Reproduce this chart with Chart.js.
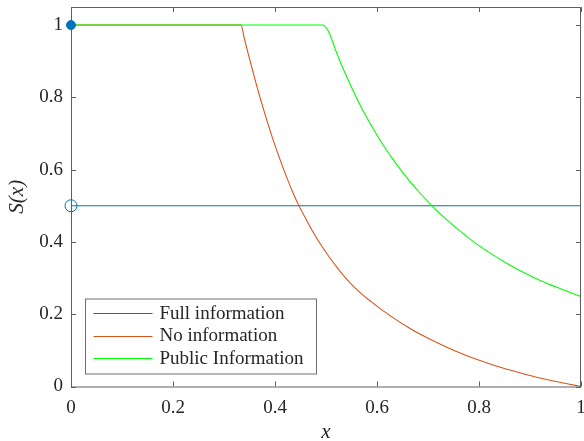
<!DOCTYPE html>
<html>
<head>
<meta charset="utf-8">
<script src="https://cdn.jsdelivr.net/npm/chart.js@4/dist/chart.umd.min.js"></script>
<style>
  html, body { margin: 0; padding: 0; background: #fff; }
  #wrap { position: relative; width: 584px; height: 441px; }
</style>
</head>
<body>
<div id="wrap"><canvas id="c" width="584" height="441"></canvas></div>
<script>
// ---- data ----
const xTicks = [0, 0.2, 0.4, 0.6, 0.8, 1];
const yTicks = [0, 0.2, 0.4, 0.6, 0.8, 1];
const xTickLabels = ['0', '0.2', '0.4', '0.6', '0.8', '1'];
const yTickLabels = ['0', '0.2', '0.4', '0.6', '0.8', '1'];

const seriesNames = ['Full information', 'No information', 'Public Information'];

const fullX = [0, 1];
const fullY = [0.5, 0.5];
const fullDotX = [0];
const fullDotY = [1];
const fullOpenX = [0];
const fullOpenY = [0.5];

const noInfoX = [0, 0.3333, 0.34, 0.347, 0.355, 0.363, 0.372, 0.383, 0.395, 0.409, 0.422, 0.435, 0.448,
  0.462, 0.474, 0.49, 0.507, 0.523, 0.54, 0.556, 0.573, 0.589, 0.605, 0.635, 0.664, 0.684, 0.715,
  0.749, 0.775, 0.802, 0.84, 0.88, 0.915, 0.946, 0.975, 1.0];
const noInfoY = [1, 1, 0.962, 0.923, 0.880, 0.838, 0.793, 0.741, 0.688, 0.631, 0.582, 0.537, 0.497,
  0.460, 0.429, 0.392, 0.357, 0.327, 0.298, 0.274, 0.252, 0.234, 0.217, 0.187, 0.161, 0.145, 0.123,
  0.101, 0.086, 0.072, 0.054, 0.038, 0.025, 0.015, 0.007, 0.0];

const publicX = [0, 0.494, 0.506, 0.52, 0.533, 0.55, 0.566, 0.58, 0.599, 0.615, 0.631, 0.65, 0.664,
  0.685, 0.708, 0.723, 0.75, 0.789, 0.82, 0.854, 0.88, 0.919, 0.95, 0.975, 1.0];
const publicY = [1, 1, 0.979, 0.926, 0.881, 0.828, 0.781, 0.744, 0.698, 0.662, 0.629, 0.593, 0.568,
  0.534, 0.500, 0.479, 0.445, 0.401, 0.371, 0.341, 0.321, 0.294, 0.276, 0.262, 0.249];

const colors = ['#0072BD', '#D95319', '#00FF00'];

function pts(xs, ys) { return xs.map((x, i) => ({ x: x, y: ys[i] })); }

const AXIS_COLOR = '#5e5e5e';
const TEXT_COLOR = '#262626';
const SERIF = '"Liberation Serif", "DejaVu Serif", serif';

// box + inside ticks (MATLAB style)
const boxPlugin = {
  id: 'boxTicks',
  afterDatasetsDraw(chart) {
    const { ctx, chartArea: a, scales } = chart;
    ctx.save();
    ctx.strokeStyle = AXIS_COLOR;
    ctx.lineWidth = 1;
    ctx.beginPath();
    ctx.rect(a.left + 0.5, a.top + 0.5, a.right - a.left - 1, a.bottom - a.top);
    ctx.stroke();
    const tl = 5;
    ctx.beginPath();
    xTicks.forEach(v => {
      const px = Math.round(scales.x.getPixelForValue(v)) + 0.5;
      ctx.moveTo(px, a.bottom); ctx.lineTo(px, a.bottom - tl);
      ctx.moveTo(px, a.top); ctx.lineTo(px, a.top + tl);
    });
    yTicks.forEach(v => {
      const py = Math.round(scales.y.getPixelForValue(v)) + 0.5;
      ctx.moveTo(a.left, py); ctx.lineTo(a.left + tl, py);
      ctx.moveTo(a.right, py); ctx.lineTo(a.right - tl, py);
    });
    ctx.stroke();
    ctx.restore();
  }
};

// legend box inside the axes, lower-left
const legendPlugin = {
  id: 'insideLegend',
  afterDraw(chart) {
    const { ctx, chartArea: a } = chart;
    const items = chart.data.datasets.filter(d => d.label);
    const x0 = a.left + 14.5, w = 231, rowH = 22.5, h = 75;
    const y0 = a.bottom - 12.5 - h;
    ctx.save();
    ctx.fillStyle = '#fff';
    ctx.fillRect(x0, y0, w, h);
    ctx.strokeStyle = '#6e6e6e';
    ctx.lineWidth = 1;
    ctx.strokeRect(x0, y0, w, h);
    ctx.font = '19px ' + SERIF;
    ctx.textBaseline = 'middle';
    ctx.textAlign = 'left';
    items.forEach((d, i) => {
      const cy = y0 + 14 + i * rowH;
      ctx.strokeStyle = d.borderColor;
      ctx.lineWidth = 1;
      ctx.beginPath();
      ctx.moveTo(x0 + 8, Math.round(cy) + 0.5);
      ctx.lineTo(x0 + 67, Math.round(cy) + 0.5);
      ctx.stroke();
      ctx.fillStyle = TEXT_COLOR;
      ctx.fillText(d.label, x0 + 74, cy + 1);
    });
    ctx.restore();
  }
};

new Chart(document.getElementById('c'), {
  type: 'line',
  data: {
    datasets: [
      { label: seriesNames[0], data: pts(fullX, fullY), borderColor: colors[0], borderWidth: 1.1,
        pointRadius: 0, fill: false, tension: 0, order: 3 },
      { label: seriesNames[1], data: pts(noInfoX, noInfoY), borderColor: colors[1], borderWidth: 1.1,
        pointRadius: 0, fill: false, cubicInterpolationMode: 'monotone', order: 2 },
      { label: seriesNames[2], data: pts(publicX, publicY), borderColor: colors[2], borderWidth: 1.1,
        pointRadius: 0, fill: false, cubicInterpolationMode: 'monotone', order: 1 },
      { label: '', data: pts(fullDotX, fullDotY), showLine: false, borderColor: colors[0],
        backgroundColor: colors[0], pointRadius: 4.5, pointBorderWidth: 1, clip: false, order: 0 },
      { label: '', data: pts(fullOpenX, fullOpenY), showLine: false, borderColor: colors[0],
        backgroundColor: 'rgba(0,0,0,0)', pointRadius: 6, pointBorderWidth: 1, clip: false, order: 0 }
    ]
  },
  options: {
    responsive: false,
    animation: false,
    devicePixelRatio: 1,
    layout: { autoPadding: false, padding: { left: 0, right: 3, top: 7, bottom: 0 } },
    plugins: { legend: { display: false }, tooltip: { enabled: false } },
    scales: {
      x: {
        type: 'linear', min: 0, max: 1,
        afterBuildTicks: s => { s.ticks = xTicks.map(v => ({ value: v })); },
        afterFit: s => { s.height = 54.5; s.paddingLeft = 0; s.paddingRight = 0; },
        grid: { display: false, drawTicks: false },
        border: { display: false },
        ticks: {
          padding: 10, color: TEXT_COLOR, font: { family: SERIF, size: 19 },
          maxRotation: 0,
          callback: (v) => xTickLabels[xTicks.indexOf(v)] ?? ''
        },
        title: { display: true, text: 'x', color: TEXT_COLOR, padding: { top: 0, bottom: 0 },
          font: { family: SERIF, size: 21, style: 'italic', lineHeight: 0.8 } }
      },
      y: {
        type: 'linear', min: 0, max: 1.05,
        afterBuildTicks: s => { s.ticks = yTicks.map(v => ({ value: v })); },
        afterFit: s => { s.width = 71; s.paddingTop = 0; s.paddingBottom = 0; },
        grid: { display: false, drawTicks: false },
        border: { display: false },
        ticks: {
          padding: 8, color: TEXT_COLOR, font: { family: SERIF, size: 19 },
          callback: (v) => yTickLabels[yTicks.indexOf(v)] ?? ''
        },
        title: { display: true, text: 'S(x)', color: TEXT_COLOR, padding: { top: 5, bottom: 0 },
          font: { family: SERIF, size: 21, style: 'italic' } }
      }
    }
  },
  plugins: [boxPlugin, legendPlugin]
});
</script>
</body>
</html>
